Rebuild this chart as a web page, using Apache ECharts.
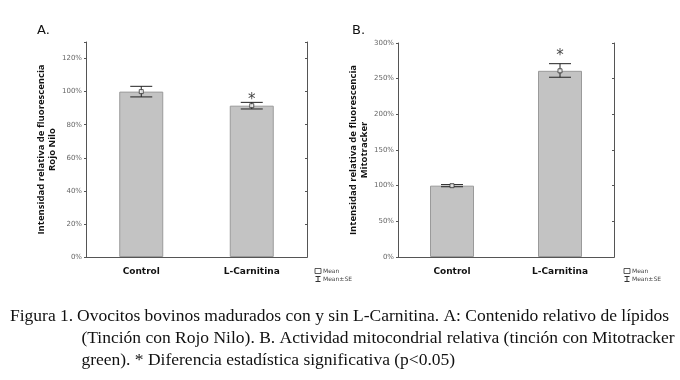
<!DOCTYPE html>
<html>
<head>
<meta charset="utf-8">
<script src="https://cdn.jsdelivr.net/npm/echarts@6/dist/echarts.min.js"></script>
<style>
  html, body { margin: 0; padding: 0; background: #fff; }
  #main { width: 680px; height: 380px; }
</style>
</head>
<body>
<div id="main"></div>
<script>
// datos
const categories = ['Control', 'L-Carnitina']
const meanA = [100, 91.5]
const lowA = [96.8, 89.5]
const highA = [103.2, 93.5]
const starA = [null, 95]
const meanB = [100, 261]
const lowB = [98.5, 252]
const highB = [101.5, 271]
const starB = [null, 282]
const ticksA = [0, 20, 40, 60, 80, 100, 120]
const ticksB = [0, 50, 100, 150, 200, 250, 300]

const tickFont = { color: '#666', fontSize: 7, fontFamily: 'DejaVu Sans' }
const nameFont = { color: '#111', fontSize: 9.5, fontWeight: 'bold', fontFamily: 'Open Sans', lineHeight: 11 }

// idx = indice del panel (0 = A, 1 = B)
function errorSeries(name, idx, low, high) {
  return {
    name: name,
    type: 'custom',
    xAxisIndex: idx * 2,
    yAxisIndex: idx * 2,
    z: 5,
    data: categories.map((c, i) => [i, low[i], high[i]]),
    renderItem(params, api) {
      const x = api.value(0)
      const lo = api.coord([x, api.value(1)])
      const hi = api.coord([x, api.value(2)])
      const half = 11
      const st = { stroke: '#222', lineWidth: 1 }
      return {
        type: 'group',
        children: [
          { type: 'line', shape: { x1: lo[0], y1: lo[1], x2: hi[0], y2: hi[1] }, style: st },
          { type: 'line', shape: { x1: lo[0] - half, y1: lo[1], x2: lo[0] + half, y2: lo[1] }, style: st },
          { type: 'line', shape: { x1: hi[0] - half, y1: hi[1], x2: hi[0] + half, y2: hi[1] }, style: st }
        ]
      }
    }
  }
}

function meanSeries(idx, mean) {
  return {
    name: 'Mean', type: 'scatter', xAxisIndex: idx * 2, yAxisIndex: idx * 2,
    symbol: 'rect', symbolSize: 4, z: 6,
    data: mean.map((v, i) => [i, v]),
    itemStyle: { color: '#fff', borderColor: '#333', borderWidth: 1 }
  }
}

function starSeries(idx, star) {
  return {
    type: 'scatter',
    xAxisIndex: idx * 2,
    yAxisIndex: idx * 2,
    symbolSize: 0,
    silent: true,
    data: star.map((v, i) => (v == null ? null : [i, v])).filter(d => d),
    label: { show: true, position: 'inside', formatter: '*', fontSize: 15, color: '#111', fontFamily: 'DejaVu Sans' }
  }
}

function barSeries(idx, mean) {
  return {
    type: 'bar', xAxisIndex: idx * 2, yAxisIndex: idx * 2, barWidth: 44, data: mean,
    itemStyle: { color: '#c3c3c3', borderColor: '#9a9a9a', borderWidth: 1 }
  }
}

function buildAxes(idx, max, interval, ticks, yName) {
  const xs = [
    {
      type: 'category', gridIndex: idx, data: categories,
      axisLine: { lineStyle: { color: '#555' } },
      axisTick: { alignWithLabel: true, length: 2, lineStyle: { color: '#555' } },
      axisLabel: { color: '#111', fontSize: 9, fontWeight: 'bold', fontFamily: 'DejaVu Sans', margin: 10 }
    },
    {
      type: 'category', gridIndex: idx, data: categories, position: 'top',
      axisLine: { lineStyle: { color: '#555' } },
      axisTick: { alignWithLabel: true, inside: true, length: 2, lineStyle: { color: '#555' } },
      axisLabel: { show: false }
    }
  ]
  const ys = [
    {
      type: 'value', gridIndex: idx, min: 0, max: max, interval: interval,
      name: yName, nameLocation: 'middle', nameGap: 20, nameTextStyle: nameFont,
      axisLine: { show: true, lineStyle: { color: '#555' } },
      axisTick: { show: true, length: 2, lineStyle: { color: '#555' } },
      axisLabel: Object.assign({ formatter: v => (ticks.indexOf(v) >= 0 ? v + '%' : ''), margin: 4 }, tickFont),
      splitLine: { show: false }
    },
    {
      type: 'value', gridIndex: idx, min: 0, max: max, interval: interval, position: 'right',
      axisLine: { show: true, lineStyle: { color: '#555' } },
      axisTick: { show: true, inside: true, length: 2, lineStyle: { color: '#555' } },
      axisLabel: { show: false },
      splitLine: { show: false }
    }
  ]
  return { xs, ys }
}

const axA = buildAxes(0, 130, 20, ticksA, 'Intensidad relativa de fluorescencia\nRojo Nilo')
const axB = buildAxes(1, 300, 50, ticksB, 'Intensidad relativa de fluorescencia\nMitotracker')

function legendAt(left) {
  return {
    left: left, top: 263, orient: 'vertical', itemGap: 0, itemWidth: 6, itemHeight: 5,
    textStyle: { fontSize: 6, color: '#444', fontFamily: 'DejaVu Sans', padding: [0, 0, 0, -3] },
    data: [
      { name: 'Mean', icon: 'rect', itemStyle: { color: '#fff', borderColor: '#333', borderWidth: 1 } },
      { name: 'Mean±SE', icon: 'path://M0,0L10,0M5,0L5,10M0,10L10,10', itemStyle: { color: 'none', borderColor: '#333', borderWidth: 1 } }
    ]
  }
}

const chart = echarts.init(document.getElementById('main'))
const option = {
  backgroundColor: '#fff',
  animation: false,
  grid: [
    { left: 86, top: 42, width: 221, height: 215 },
    { left: 398, top: 43, width: 216, height: 214 }
  ],
  xAxis: [axA.xs[0], axA.xs[1], axB.xs[0], axB.xs[1]],
  yAxis: [axA.ys[0], axA.ys[1], axB.ys[0], axB.ys[1]],
  legend: [legendAt(308), legendAt(617)],
  series: [
    barSeries(0, meanA),
    errorSeries('Mean±SE', 0, lowA, highA),
    meanSeries(0, meanA),
    starSeries(0, starA),
    barSeries(1, meanB),
    errorSeries('Mean±SE', 1, lowB, highB),
    meanSeries(1, meanB),
    starSeries(1, starB)
  ],
  graphic: [
    { type: 'text', left: 37, top: 24, style: { text: 'A.', fontSize: 13, fill: '#111', fontFamily: 'DejaVu Sans' } },
    { type: 'text', left: 352, top: 24, style: { text: 'B.', fontSize: 13, fill: '#111', fontFamily: 'DejaVu Sans' } },
    { type: 'text', left: 10, top: 305, style: { text: 'Figura 1.', fontSize: 17.5, lineHeight: 22, fill: '#111', fontFamily: 'Liberation Serif' } },
    {
      type: 'text', left: 77, top: 305,
      style: {
        text: 'Ovocitos bovinos madurados con y sin L-Carnitina. A: Contenido relativo de lípidos\n (Tinción con Rojo Nilo). B. Actividad mitocondrial relativa (tinción con Mitotracker\n green). * Diferencia estadística significativa (p<0.05)',
        fontSize: 17.5, lineHeight: 22, fill: '#111', fontFamily: 'Liberation Serif'
      }
    }
  ]
}
chart.setOption(option)
</script>
</body>
</html>
